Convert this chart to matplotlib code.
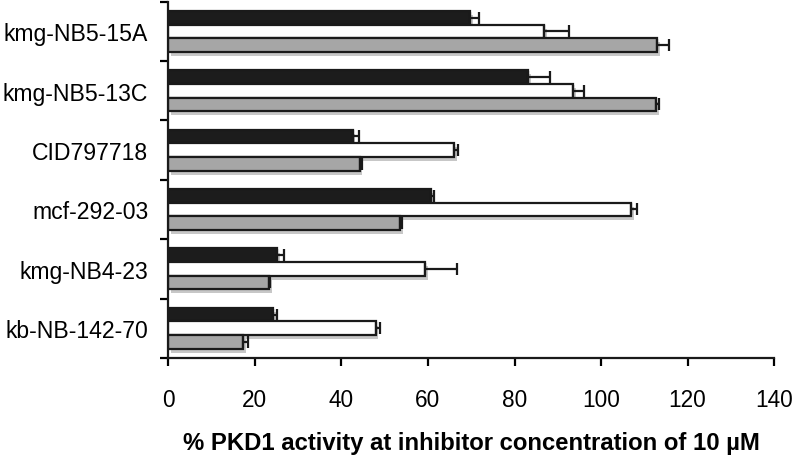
import matplotlib
matplotlib.use("Agg")
import matplotlib.pyplot as plt
import matplotlib.patheffects as pe
import numpy as np

plt.rcParams['font.family'] = ['Liberation Sans', 'DejaVu Sans']

compounds = ['kmg-NB5-15A', 'kmg-NB5-13C', 'CID797718',
             'mcf-292-03', 'kmg-NB4-23', 'kb-NB-142-70']

# three series per compound (top: black, middle: white, bottom: gray)
black_vals = [69.7, 83.1, 42.6, 60.7, 25.2, 24.3]
black_err = [2.1, 5.1, 1.4, 0.7, 1.5, 0.7]
white_vals = [86.8, 93.5, 66.1, 107.0, 59.3, 47.9]
white_err = [5.8, 2.6, 0.9, 1.3, 7.4, 1.0]
gray_vals = [112.9, 112.7, 44.2, 53.6, 23.3, 17.3]
gray_err = [2.9, 0.8, 0.5, 0.3, 0.2, 1.2]

xticks = [0, 20, 40, 60, 80, 100, 120, 140]
xlabel = '% PKD1 activity at inhibitor concentration of 10 \u00b5M'

fig = plt.figure(figsize=(7.94, 4.56), dpi=100)
ax = fig.add_axes([0.212, 0.213, 0.763, 0.781])

y = np.arange(len(compounds))
h = 0.23
shadow = [pe.SimplePatchShadow(offset=(2, -3), shadow_rgbFace='k', alpha=0.22), pe.Normal()]

series = [(black_vals, black_err, '#1c1c1c', -h),
          (white_vals, white_err, '#ffffff', 0.0),
          (gray_vals, gray_err, '#a6a6a6', h)]

for vals, errs, col, off in series:
    bars = ax.barh(y + off, vals, height=h, color=col, edgecolor='#1a1a1a',
                   linewidth=1.6, zorder=2)
    for b in bars:
        b.set_path_effects(shadow)
    ax.errorbar(vals, y + off, xerr=[np.zeros(len(vals)), errs], fmt='none',
                ecolor='#1a1a1a', elinewidth=1.6, capsize=4.5, capthick=1.6, zorder=3)

ax.set_xlim(0, 140)
ax.set_ylim(len(compounds) - 0.5, -0.5)
ax.set_xticks(xticks)
ax.set_xticklabels([str(t) for t in xticks], fontsize=16.3)
ax.tick_params(axis='x', direction='out', length=6, width=1.6, pad=16)

ax.set_yticks(np.arange(len(compounds) + 1) - 0.5)
ax.set_yticklabels([])
ax.set_yticks(y, minor=True)
ax.set_yticklabels(compounds, minor=True, fontsize=16.6)
ax.tick_params(axis='y', which='major', direction='out', length=6, width=1.6)
ax.tick_params(axis='y', which='minor', length=0, pad=14.5)

for s in ['top', 'right']:
    ax.spines[s].set_visible(False)
for s in ['left', 'bottom']:
    ax.spines[s].set_linewidth(1.6)
    ax.spines[s].set_color('#1a1a1a')

ax.set_xlabel(xlabel, fontsize=17.2, fontweight='bold', labelpad=14)

fig.savefig('out.png', dpi=100)
